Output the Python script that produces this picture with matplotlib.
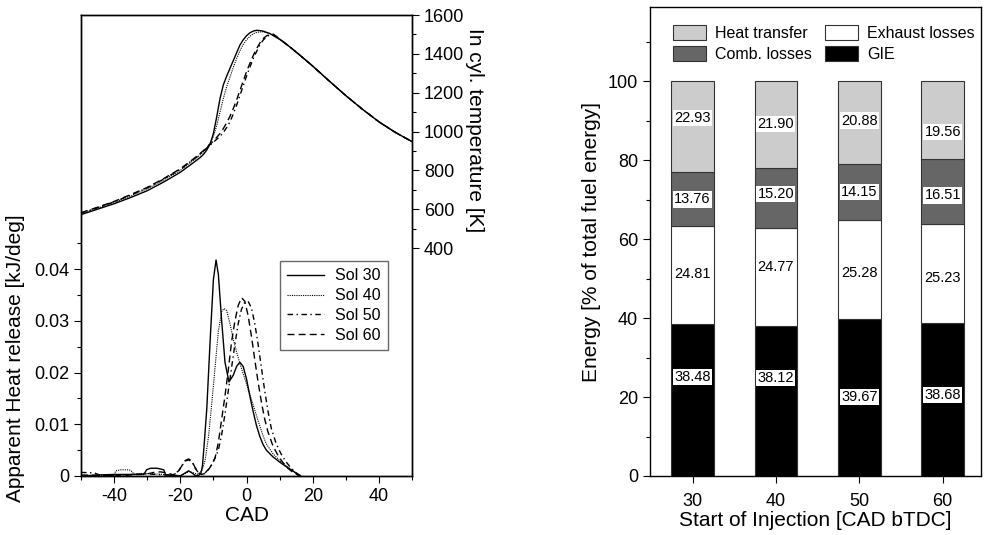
import matplotlib
matplotlib.use("Agg")
import matplotlib.pyplot as plt
from matplotlib.ticker import MultipleLocator, FixedLocator, FuncFormatter

plt.rcParams['font.family'] = ['Liberation Sans', 'DejaVu Sans']
plt.rcParams['axes.unicode_minus'] = False

# ---- left panel: heat release
cad30 = [-50, -45, -40, -35, -31, -30.2, -29, -27, -25, -24.4, -22, -20, -18.5, -17.5, -16.5, -15.5, -14.5,
         -13.8, -13.3, -12.8, -12, -11, -10, -9.2, -8.5, -7.5, -6.5, -5.3, -4, -3, -2, -1, 0, 1, 2, 3, 4, 5,
         6, 8, 10, 12, 14, 16]
hrr30 = [0.0, 0.0002, 0.0003, 0.0003, 0.0003, 0.0012, 0.0015, 0.0015, 0.0012, 0.0002, 0.0001, 0.0, 0.0006,
         0.001, 0.0006, 0.0001, 0.0001, 0.0005, 0.002, 0.006, 0.013, 0.026, 0.038, 0.0418, 0.039, 0.030,
         0.022, 0.0182, 0.0195, 0.0212, 0.022, 0.0212, 0.0188, 0.0155, 0.0125, 0.0098, 0.0077, 0.0061,
         0.005, 0.0037, 0.0027, 0.0018, 0.001, 0.0]

cad40 = [-50, -45, -40, -39.5, -38, -36, -35, -34, -30, -25, -20, -18, -17.5, -16, -14.5, -13.5, -12.5, -11.5,
         -10.5, -9.5, -8.5, -7.5, -6.8, -6, -5, -4, -3, -2, -1, 0, 1, 2, 3, 4, 5, 6, 8, 10, 12, 14, 16.5]
hrr40 = [0.0, 0.0001, 0.0002, 0.001, 0.0012, 0.0012, 0.0011, 0.0004, 0.0005, 0.0003, 0.0001, 0.0006, 0.0009,
         0.0006, 0.0003, 0.001, 0.003, 0.0075, 0.014, 0.021, 0.028, 0.0318, 0.0324, 0.032, 0.0295, 0.0265,
         0.024, 0.0218, 0.0198, 0.0178, 0.0158, 0.0138, 0.0117, 0.0097, 0.0078, 0.0062, 0.0043, 0.003,
         0.002, 0.001, 0.0]

cad50 = [-50, -46, -44, -40, -35, -30, -25, -22, -20.5, -19.5, -18.5, -17.5, -16.5, -15.5, -14.5, -13.5,
         -12.5, -11.5, -10.5, -9.5, -8.5, -7.5, -6.5, -5.5, -4.5, -3.5, -2.5, -1.5, -0.5, 0.5, 1.5, 2.5,
         3.5, 4.5, 5.5, 6.5, 7.5, 9, 10.5, 12, 13.5, 15, 16.5]
hrr50 = [0.0007, 0.0006, 0.0001, 0.0001, 0.0003, 0.0004, 0.0002, 0.0003, 0.001, 0.002, 0.0029, 0.0031,
         0.0028, 0.0015, 0.0006, 0.0003, 0.0006, 0.0013, 0.0022, 0.0035, 0.005, 0.008, 0.012, 0.0165,
         0.021, 0.0255, 0.0295, 0.0323, 0.0336, 0.0338, 0.0325, 0.0295, 0.0255, 0.021, 0.0165, 0.0125,
         0.0092, 0.0062, 0.0042, 0.0027, 0.0015, 0.0006, 0.0]

cad60 = [-50, -45, -40, -35, -30, -28, -26, -24, -22, -20.5, -19.5, -18.5, -17.5, -16.5, -15.5, -14.5,
         -13.5, -12.5, -11.5, -10.5, -9.5, -8.5, -7.5, -6.5, -5.5, -4.5, -3.5, -2.5, -1.5, -0.5, 0.5, 1.5,
         2.5, 3.5, 4.5, 5.5, 6.5, 8, 9.5, 11, 12.5, 14, 15.5, 16.5]
hrr60 = [0.0002, 0.0001, 0.0, 0.0002, 0.0004, 0.0007, 0.0008, 0.0006, 0.0002, 0.001, 0.002, 0.003, 0.0033,
         0.0029, 0.0016, 0.0006, 0.0003, 0.0005, 0.0012, 0.0022, 0.0035, 0.0065, 0.011, 0.0155, 0.0205,
         0.026, 0.030, 0.033, 0.0345, 0.0338, 0.031, 0.027, 0.0225, 0.0182, 0.0143, 0.011, 0.0085, 0.0058,
         0.004, 0.0026, 0.0015, 0.0007, 0.0002, 0.0]

# ---- left panel: in-cylinder temperature
tcad30 = [-50, -45, -40, -35, -30, -25, -20, -16, -14, -13, -12, -11, -10, -9, -8, -7, -6, -5, -4, -3, -2,
          -1, 0, 1, 2, 3, 4, 5, 7, 10, 13, 16, 20, 25, 30, 35, 40, 45, 50]
temp30 = [572, 600, 628, 660, 695, 740, 790, 840, 866, 882, 905, 935, 990, 1075, 1170, 1240, 1285, 1325,
          1365, 1405, 1445, 1472, 1493, 1508, 1517, 1521, 1520, 1517, 1505, 1475, 1437, 1395, 1337, 1260,
          1185, 1115, 1050, 995, 948]

tcad40 = [-50, -45, -40, -35, -30, -25, -20, -15, -13, -12, -11, -10, -9, -8, -7, -6, -5, -4, -3, -2, -1,
          0, 1, 2, 3, 4, 5, 7, 10, 13, 16, 20, 25, 30, 35, 40, 45, 50]
temp40 = [578, 605, 635, 668, 705, 750, 800, 865, 895, 915, 940, 975, 1030, 1100, 1170, 1230, 1280, 1330,
          1375, 1415, 1448, 1472, 1490, 1503, 1510, 1513, 1513, 1505, 1475, 1437, 1395, 1337, 1260, 1185,
          1115, 1050, 995, 948]

tcad50 = [-50, -45, -40, -35, -30, -25, -20, -15, -13, -12, -11, -10, -9, -8, -7, -6, -5, -4, -3, -2, -1,
          0, 1, 2, 3, 4, 5, 6, 7, 8, 10, 13, 16, 20, 25, 30, 35, 40, 45, 50]
temp50 = [580, 608, 638, 672, 710, 755, 805, 870, 900, 915, 930, 945, 960, 975, 995, 1020, 1050, 1090,
          1135, 1185, 1235, 1285, 1330, 1375, 1410, 1445, 1470, 1487, 1497, 1500, 1477, 1437, 1395, 1337,
          1260, 1185, 1115, 1050, 995, 948]

tcad60 = [-50, -45, -40, -35, -30, -25, -20, -15, -13, -12, -11, -10, -9, -8, -7, -6, -5, -4, -3, -2, -1,
          0, 1, 2, 3, 4, 5, 6, 7, 8, 10, 13, 16, 20, 25, 30, 35, 40, 45, 50]
temp60 = [582, 610, 640, 675, 712, 758, 808, 872, 902, 918, 935, 950, 970, 990, 1015, 1045, 1078, 1118,
          1162, 1210, 1260, 1308, 1350, 1390, 1425, 1455, 1478, 1492, 1500, 1502, 1478, 1437, 1395, 1337,
          1260, 1185, 1115, 1050, 995, 948]

sol_names = ['Sol 30', 'Sol 40', 'Sol 50', 'Sol 60']

# ---- right panel: energy balance
soi = [30, 40, 50, 60]
gie = [38.48, 38.12, 39.67, 38.68]
exhaust = [24.81, 24.77, 25.28, 25.23]
comb = [13.76, 15.20, 14.15, 16.51]
heat = [22.93, 21.90, 20.88, 19.56]

fig = plt.figure(figsize=(9.85, 5.35), dpi=100)

ax = fig.add_axes([81 / 985, 59 / 535, 331 / 985, 461 / 535])
ax2 = ax.twinx()

styles = ['-', (0, (1, 1)), (0, (4, 2.5, 1, 2.5)), (0, (5, 3))]
widths = [1.0, 0.8, 1.0, 1.0]
hrr_x = [cad30, cad40, cad50, cad60]
hrr_y = [hrr30, hrr40, hrr50, hrr60]
t_x = [tcad30, tcad40, tcad50, tcad60]
t_y = [temp30, temp40, temp50, temp60]
for i in range(4):
    ax.plot(hrr_x[i], hrr_y[i], color='black', ls=styles[i], lw=widths[i], label=sol_names[i])
    ax2.plot(t_x[i], t_y[i], color='black', ls=styles[i], lw=widths[i])

ax.set_xlim(-50, 50)
ax.set_ylim(0, 0.0892)
ax2.set_ylim(-774, 1600)
ax.xaxis.set_major_locator(MultipleLocator(20))
ax.xaxis.set_minor_locator(MultipleLocator(10))
ax.yaxis.set_major_locator(FixedLocator([0, 0.01, 0.02, 0.03, 0.04]))
ax.yaxis.set_minor_locator(FixedLocator([0.005, 0.015, 0.025, 0.035, 0.045]))
ax.yaxis.set_major_formatter(FuncFormatter(lambda v, p: '%g' % round(v, 3)))
ax2.yaxis.set_major_locator(FixedLocator(range(400, 1601, 200)))
ax2.yaxis.set_minor_locator(FixedLocator(range(500, 1600, 200)))

for a in (ax, ax2):
    a.tick_params(which='major', direction='out', length=5, width=0.8, labelsize=13)
    a.tick_params(which='minor', direction='out', length=3, width=0.8)
    for s in a.spines.values():
        s.set_linewidth(1.0)

ax.set_xlabel('CAD', fontsize=15, labelpad=1)
ax.set_ylabel('Apparent Heat release [kJ/deg]', fontsize=15)
ax.yaxis.set_label_coords(-0.17, 0.256)
ax2.set_ylabel('In cyl. temperature [K]', fontsize=15, rotation=270, va='center')
ax2.yaxis.set_label_coords(1.19, 0.75)

leg = ax.legend(loc='upper right', bbox_to_anchor=(0.927, 0.466), fontsize=11.5, fancybox=False,
                edgecolor='#444444', handlelength=2.3, borderpad=0.45, labelspacing=0.3,
                borderaxespad=0, handletextpad=0.7)
leg.get_frame().set_linewidth(1.0)
leg.set_zorder(5)

# ---- right panel
bx = fig.add_axes([650 / 985, 59 / 535, 331 / 985, 469 / 535])
layers = [gie, exhaust, comb, heat]
names = ['GIE', 'Exhaust losses', 'Comb. losses', 'Heat transfer']
colors = ['black', 'white', '#666666', '#cccccc']
label_shift = [[5.9, 5.7, 0.2, 1.2], [0.3, 2.4, -0.8, -1.2], [-0.1, 0.9, -0.1, -1.1], [2.1, 0.2, 0.5, -3.1]]

bottom = [0, 0, 0, 0]
bars = []
for k in range(4):
    b = bx.bar(soi, layers[k], width=5.1, bottom=bottom, color=colors[k], edgecolor='#333333', linewidth=0.8,
               label=names[k])
    bars.append(b)
    for j in range(4):
        yc = bottom[j] + layers[k][j] / 2 + label_shift[k][j]
        bx.text(soi[j], yc, '%.2f' % layers[k][j], ha='center', va='center', fontsize=10.5,
                bbox=dict(facecolor='white', edgecolor='none', pad=0.8))
    bottom = [bottom[j] + layers[k][j] for j in range(4)]

bx.set_xlim(24.9, 64.6)
bx.set_ylim(0, 118.8)
bx.set_xticks(soi)
bx.set_yticks([0, 20, 40, 60, 80, 100])
bx.yaxis.set_minor_locator(FixedLocator(range(10, 111, 20)))
bx.tick_params(which='major', direction='out', length=5, width=0.8, labelsize=13)
bx.tick_params(which='minor', direction='out', length=3, width=0.8)
bx.tick_params(axis='x', pad=7)
for s in bx.spines.values():
    s.set_linewidth(1.0)
bx.set_xlabel('Start of Injection [CAD bTDC]', fontsize=15, labelpad=1)
bx.set_ylabel('Energy [% of total fuel energy]', fontsize=15, labelpad=5)

handles = [bars[3], bars[2], bars[1], bars[0]]
bx.legend(handles, [names[3], names[2], names[1], names[0]], ncol=2, loc='upper left',
          bbox_to_anchor=(0.05, 0.975), frameon=False, fontsize=11.5, handlelength=2.1, handleheight=1.1,
          handletextpad=0.55, columnspacing=0.8, labelspacing=0.3, borderaxespad=0)

fig.savefig('out.png', dpi=100)
